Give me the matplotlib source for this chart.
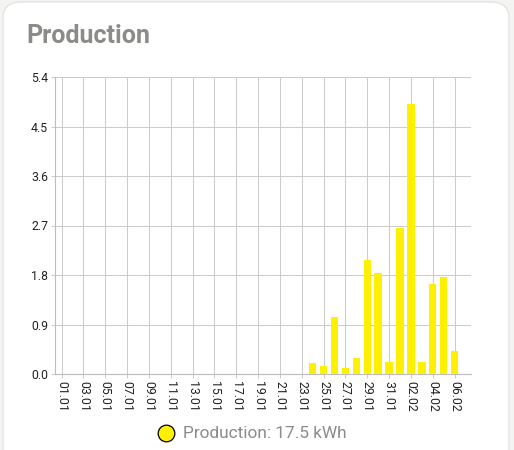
import numpy as np
import matplotlib
matplotlib.use("Agg")
import matplotlib.pyplot as plt
from matplotlib.patches import FancyBboxPatch
from matplotlib.lines import Line2D

plt.rcParams["font.family"] = ["Roboto", "DejaVu Sans"]

# daily production, 01.01 .. 06.02 (kWh)
days = ["01.01", "02.01", "03.01", "04.01", "05.01", "06.01", "07.01", "08.01",
        "09.01", "10.01", "11.01", "12.01", "13.01", "14.01", "15.01", "16.01",
        "17.01", "18.01", "19.01", "20.01", "21.01", "22.01", "23.01", "24.01",
        "25.01", "26.01", "27.01", "28.01", "29.01", "30.01", "31.01", "01.02",
        "02.02", "03.02", "04.02", "05.02", "06.02"]
production = [0, 0, 0, 0, 0, 0, 0, 0,
              0, 0, 0, 0, 0, 0, 0, 0,
              0, 0, 0, 0, 0, 0, 0, 0.20,
              0.14, 1.04, 0.11, 0.30, 2.07, 1.84, 0.21, 2.65,
              4.91, 0.22, 1.64, 1.76, 0.41]
yticks = [0.0, 0.9, 1.8, 2.7, 3.6, 4.5, 5.4]
total = 17.5

W, H = 514, 450
fig = plt.figure(figsize=(W / 100, H / 100), dpi=100)
fig.patch.set_facecolor("#f4f4f2")

# card
card = FancyBboxPatch((3 / W, -20 / H), 506 / W, (H + 18) / H,
                      boxstyle="round,pad=0,rounding_size=0.035",
                      transform=fig.transFigure, facecolor="white",
                      edgecolor="#e4e4e0", lw=1.0, zorder=-5)
fig.patches.append(card)

fig.text(26 / W, 1 - 43 / H, "Production", fontsize=18, fontweight="bold",
         color="#8b8b87", va="baseline", ha="left")

ax = fig.add_axes([55 / W, 1 - 374 / H, (471 - 55) / W, (374 - 77) / H])
ax.set_facecolor("none")
ax.set_zorder(2)

x = np.arange(len(days))
ax.bar(x, production, width=0.68, color="#fff000", zorder=3)

ax.set_xlim(-0.6, 37.5)
ax.set_ylim(0, 5.4)
ax.set_yticks(yticks)
ax.set_yticklabels([f"{v:.1f}" for v in yticks])
ax.set_xticks(x[::2])
ax.set_xticklabels(days[::2], rotation=-90)

ax.grid(True, color="#cccccc", lw=0.75, zorder=0)
ax.tick_params(axis="both", length=3, width=0.75, color="#cccccc",
               labelsize=8.8, labelcolor="#222222", pad=2)
for s in ["top", "right"]:
    ax.spines[s].set_visible(False)
for s in ["left", "bottom"]:
    ax.spines[s].set_color("#bdbdbd")
    ax.spines[s].set_linewidth(0.8)

# legend
fig.add_artist(Line2D([166 / W], [1 - 433 / H], marker="o", markersize=12,
                      markerfacecolor="#fff000", markeredgecolor="black",
                      markeredgewidth=0.9, transform=fig.transFigure))
fig.text(183 / W, 1 - 433 / H, f"Production: {total} kWh", fontsize=12.4,
         color="#8b8b8b", va="center", ha="left")

plt.savefig("out.png", dpi=100)
